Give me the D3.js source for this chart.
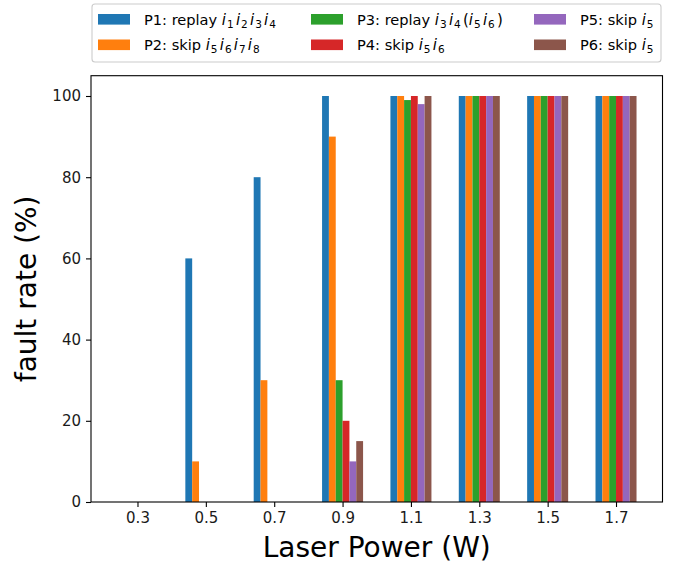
<!DOCTYPE html>
<html>
<head>
<meta charset="utf-8">
<script src="https://cdn.jsdelivr.net/npm/d3@7"></script>
<style>
  html, body { margin: 0; padding: 0; background: #fff; }
  svg { display: block; font-family: "DejaVu Sans", sans-serif; }
</style>
</head>
<body>
<svg id="chart" width="677" height="568"></svg>
<script>
// ---- data ----
const categories = ["0.3", "0.5", "0.7", "0.9", "1.1", "1.3", "1.5", "1.7"];
const seriesNames = [
  "P1: replay $i_1i_2i_3i_4$",
  "P2: skip $i_5i_6i_7i_8$",
  "P3: replay $i_3i_4(i_5i_6)$",
  "P4: skip $i_5i_6$",
  "P5: skip $i_5$",
  "P6: skip $i_5$"
];
const p1 = [0, 60, 80, 100, 100, 100, 100, 100];
const p2 = [0, 10, 30, 90, 100, 100, 100, 100];
const p3 = [0, 0, 0, 30, 99, 100, 100, 100];
const p4 = [0, 0, 0, 20, 100, 100, 100, 100];
const p5 = [0, 0, 0, 10, 98, 100, 100, 100];
const p6 = [0, 0, 0, 15, 100, 100, 100, 100];
const seriesValues = [p1, p2, p3, p4, p5, p6];
const yTicks = [0, 20, 40, 60, 80, 100];
const colors = ["#1f77b4", "#ff7f0e", "#2ca02c", "#d62728", "#9467bd", "#8c564b"];
const xLabel = "Laser Power (W)";
const yLabel = "fault rate (%)";

// ---- layout ----
const svg = d3.select("#chart");
const L = 91, R = 662.5, T = 75.7, B = 502;
const barW = 0.1;
const nS = seriesValues.length;

const x = d3.scaleLinear().domain([-0.68, categories.length - 1 + 0.68]).range([L, R]);
const y = d3.scaleLinear().domain([0, 105]).range([B, T]);

// bars
seriesValues.forEach((vals, j) => {
  svg.append("g").attr("fill", colors[j])
    .selectAll("rect").data(vals).join("rect")
    .attr("x", (d, i) => x(i - nS * barW / 2 + j * barW))
    .attr("width", x(barW) - x(0))
    .attr("y", d => y(d))
    .attr("height", d => y(0) - y(d));
});

// axes
const xAxis = d3.axisBottom(x).tickValues(d3.range(categories.length))
  .tickFormat(i => categories[i]).tickSize(5).tickPadding(5).tickSizeOuter(0);
const yAxis = d3.axisLeft(y).tickValues(yTicks).tickSize(5).tickPadding(5).tickSizeOuter(0);

const gx = svg.append("g").attr("transform", `translate(0,${B})`).call(xAxis);
const gy = svg.append("g").attr("transform", `translate(${L},0)`).call(yAxis);
[gx, gy].forEach(g => {
  g.select(".domain").remove();
  g.selectAll(".tick line").attr("stroke", "#000").attr("stroke-width", 1.1);
  g.selectAll(".tick text").attr("font-size", 15).attr("fill", "#1a1a1a")
    .attr("font-family", "DejaVu Sans");
});

// frame
svg.append("rect").attr("x", L).attr("y", T).attr("width", R - L).attr("height", B - T)
  .attr("fill", "none").attr("stroke", "#000").attr("stroke-width", 1.1);

// axis labels
svg.append("text").attr("x", (L + R) / 2).attr("y", 557).attr("text-anchor", "middle")
  .attr("font-size", 28).attr("fill", "#000").text(xLabel);
svg.append("text").attr("transform", `translate(36,${(T + B) / 2}) rotate(-90)`)
  .attr("text-anchor", "middle").attr("font-size", 28).attr("fill", "#000").text(yLabel);

// ---- legend ----
function addMathText(sel, str, size) {
  const parts = str.split("$");
  parts.forEach((part, k) => {
    if (k % 2 === 0) {
      if (part) sel.append("tspan").attr("font-size", size).text(part);
    } else {
      let m = 0;
      let shifted = false;
      while (m < part.length) {
        const c = part[m];
        if (c === "_") {
          const sub = part[m + 1];
          sel.append("tspan").attr("font-size", size * 0.72)
            .attr("dx", 1.0).attr("dy", size * 0.2).text(sub);
          shifted = true;
          m += 2;
        } else {
          const t = sel.append("tspan").attr("font-size", size * 1.03)
            .attr("font-style", /[a-z]/.test(c) ? "italic" : "normal").text(c);
          if (shifted) { t.attr("dy", -size * 0.2).attr("dx", 2.2); shifted = false; }
          m += 1;
        }
      }
    }
  });
}

const lg = svg.append("g");
lg.append("rect").attr("x", 92).attr("y", 4).attr("width", 569).attr("height", 58)
  .attr("rx", 3).attr("fill", "#fff").attr("fill-opacity", 0.8)
  .attr("stroke", "#cccccc").attr("stroke-width", 1.1);

const colX = [98, 311, 534];
const rowY = [19.3, 44.8];
seriesNames.forEach((name, j) => {
  const c = Math.floor(j / 2), r = j % 2;
  lg.append("rect").attr("x", colX[c]).attr("y", rowY[r] - 5.3)
    .attr("width", 32).attr("height", 10.6).attr("fill", colors[j]);
  const t = lg.append("text").attr("x", colX[c] + 46).attr("y", rowY[r] + 5.3)
    .attr("fill", "#000");
  addMathText(t, name, 14.6);
});
</script>
</body>
</html>
